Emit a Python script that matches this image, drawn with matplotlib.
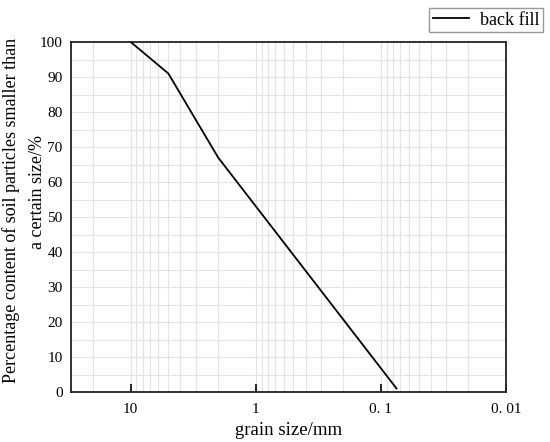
import matplotlib
matplotlib.use("Agg")
import matplotlib.pyplot as plt
import numpy as np
from matplotlib.ticker import NullFormatter

plt.rcParams['font.family'] = ['Liberation Serif', 'DejaVu Serif']

grain_size = [10, 5, 2, 0.075]
percent = [100, 91, 67, 1]
xtick_vals = [10, 1, 0.1, 0.01]
xtick_labels = ['10', '1', '0. 1', '0. 01']
ytick_vals = list(range(0, 101, 10))
ylabel_lines = ['Percentage content of soil particles smaller than', 'a certain size/%']

W, H = 550, 442
fig = plt.figure(figsize=(5.5, 4.42), dpi=100)
ax = fig.add_axes([71 / W, 50 / H, 435 / W, 350 / H])

# grid
minor_x = [m * 10.0 ** e for e in range(-2, 2) for m in range(1, 10)]
minor_x = [v for v in minor_x if 0.01 <= v <= 30]
for v in minor_x:
    ax.axvline(v, color='#e3e3e3', lw=0.8, zorder=0)
for yv in range(5, 100, 5):
    ax.axhline(yv, color='#e3e3e3', lw=0.8, zorder=0)

ax.plot(grain_size, percent, color='black', lw=1.3, label='back fill', zorder=3)

ax.set_xscale('log')
ax.set_xlim(30, 0.01)
ax.set_ylim(0, 100)
ax.set_xticks(xtick_vals)
ax.set_xticklabels(xtick_labels)
ax.xaxis.set_minor_formatter(NullFormatter())
ax.tick_params(axis='x', which='minor', length=0)
ax.tick_params(axis='x', which='major', direction='in', length=6, width=1.2, labelsize=11, pad=8)
ax.set_yticks(ytick_vals)
ax.tick_params(axis='y', length=0, labelsize=11, pad=6)
for s in ax.spines.values():
    s.set_linewidth(1.3)
    s.set_color('#222222')

ax.set_xlabel('grain size/mm', fontsize=13.5, labelpad=4)
fig.text(11 / W, 1 - 210 / H, ylabel_lines[0], rotation=90, ha='center', va='center', fontsize=13)
fig.text(37 / W, 1 - 192 / H, ylabel_lines[1], rotation=90, ha='center', va='center', fontsize=13)

fig.legend(loc='upper right', bbox_to_anchor=(543 / W, 1 - 8 / H), fancybox=False,
           edgecolor='#999999', framealpha=1, fontsize=13, borderaxespad=0,
           handlelength=2.0, handletextpad=0.6, borderpad=0.2)

fig.savefig('out.png', dpi=100)
